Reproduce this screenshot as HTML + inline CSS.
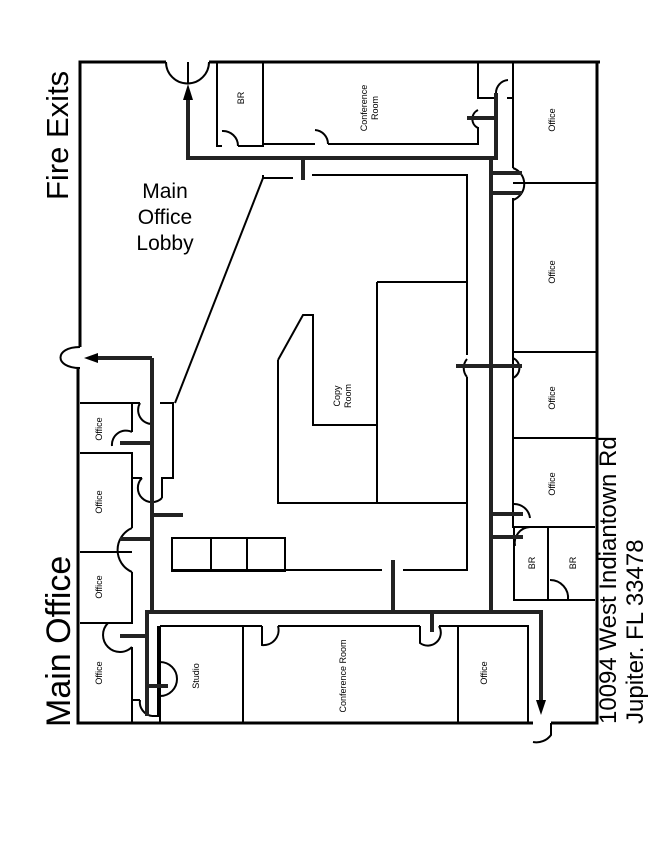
<!DOCTYPE html>
<html><head><meta charset="utf-8"><style>
body{margin:0;background:#fff}
svg{display:block}
text{font-family:"Liberation Sans",sans-serif;fill:#000}
</style></head><body>
<svg width="650" height="841" viewBox="0 0 650 841" xmlns="http://www.w3.org/2000/svg">
<g fill="none" stroke="#000" stroke-width="3">
<polyline points="166,62 80,62 80,347"/>
<polyline points="209,62 600,62 597,62 597,723 551,723"/>
<polyline points="533,723 78,723 78,368"/>
</g>
<g fill="none" stroke="#000" stroke-width="2">
<path d="M166,62 A21,21 0 0 0 209,62"/>
<line x1="188" y1="62" x2="188" y2="84"/>
<path d="M80,347 C54,347 54,368 80,368"/>
<path d="M551,723 L551,735 A18,18 0 0 1 533,742"/>
<!-- top rooms -->
<polyline points="217,62 217,146 222,146"/>
<polyline points="238,146 263,146 263,62"/>
<path d="M222,131 A15,15 0 0 1 238,146"/>
<polyline points="263,144 315,144"/>
<path d="M315,130 A14,14 0 0 1 328,144"/>
<polyline points="328,144 478,144 478,127"/>
<polyline points="478,62 478,98 496,98"/>
<path d="M478,110 A10,10 0 0 0 478,128"/>
<path d="M496,93 A13,13 0 0 1 508,80"/>
<polyline points="513,62 513,98 507,98"/>
<!-- right offices -->
<polyline points="513,168 513,98"/>
<polyline points="513,198 513,527 514,527"/>
<path d="M513,168 A17,17 0 0 1 513,200"/>
<line x1="513" y1="183" x2="598" y2="183"/>
<line x1="513" y1="352" x2="598" y2="352"/>
<path d="M513,358 A11,11 0 0 1 513,378"/>
<line x1="513" y1="438" x2="598" y2="438"/>
<path d="M513,504 A16,16 0 0 1 530,518"/>
<polyline points="514,527 548,527 595,527"/>
<path d="M515,546 A16,16 0 0 1 530,527"/>
<polyline points="514,527 514,600 548,600 548,527"/>
<polyline points="548,600 568,600"/>
<path d="M550,580 A18,18 0 0 1 568,600"/>
<polyline points="568,600 595,600"/>
<!-- inner block -->
<polyline points="263,175 263,178 293,178"/>
<polyline points="312,175 467,175 467,355"/>
<path d="M467,359 A14,14 0 0 0 467,377"/>
<polyline points="467,377 467,570 403,570"/>
<polyline points="382,570 172,570"/>
<polyline points="278,360 303,315 313,315 313,425 377,425"/>
<polyline points="377,282 467,282"/>
<polyline points="377,282 377,502"/>
<polyline points="278,360 278,503 467,503"/>
<rect x="172" y="538" width="113" height="33"/>
<line x1="211" y1="538" x2="211" y2="571"/>
<line x1="247" y1="538" x2="247" y2="571"/>
<line x1="263" y1="178" x2="175" y2="403"/>
<polyline points="160,403 173,403 173,478 162,478 162,498"/>
<path d="M140,403 A14,14 0 0 0 152,424"/>
<path d="M142,478 A14,14 0 0 0 162,498"/>
<!-- left offices -->
<polyline points="80,403 140,403"/>
<line x1="132" y1="403" x2="132" y2="432"/>
<path d="M132,432 A14,14 0 0 0 112,446"/>
<polyline points="80,453 132,453 132,478 142,478"/>
<line x1="132" y1="453" x2="132" y2="528"/>
<path d="M132,528 A24,24 0 0 0 132,572"/>
<line x1="80" y1="552" x2="132" y2="552"/>
<polyline points="132,572 132,623 80,623"/>
<path d="M108,623 A14,14 0 0 0 132,647"/>
<line x1="132" y1="647" x2="132" y2="723"/>
<polyline points="132,700 140,700"/>
<path d="M140,700 A14,14 0 0 0 152,716"/>
<polyline points="152,716 158,716 158,626"/>
<!-- bottom rooms -->
<polyline points="160,626 262,626"/>
<path d="M262,626 L262,645 A15,15 0 0 0 278,626"/>
<polyline points="278,626 420,626"/>
<path d="M420,626 L420,643 A13,13 0 0 0 439,626"/>
<polyline points="439,626 528,626 528,723"/>
<path d="M160,662 A17,17 0 0 1 160,696"/>
<line x1="160" y1="626" x2="160" y2="723"/>
<line x1="243" y1="626" x2="243" y2="723"/>
<line x1="458" y1="626" x2="458" y2="723"/>
</g>
<g fill="none" stroke="#222" stroke-width="4">
<polyline points="188,100 188,158 496,158 496,93"/>
<line x1="467" y1="118" x2="496" y2="118"/>
<polyline points="491,158 491,612"/>
<polyline points="152,358 152,612 147,612 147,716"/>
<polyline points="147,612 543,612 541,612 541,702"/>
<line x1="152" y1="358" x2="96" y2="358"/>
<line x1="303" y1="160" x2="303" y2="180"/>
<line x1="393" y1="560" x2="393" y2="612"/>
<line x1="152" y1="515" x2="183" y2="515"/>
<line x1="120" y1="443" x2="150" y2="443"/>
<line x1="120" y1="539" x2="150" y2="539"/>
<line x1="120" y1="636" x2="145" y2="636"/>
<line x1="147" y1="686" x2="168" y2="686"/>
<line x1="490" y1="173" x2="522" y2="173"/>
<line x1="490" y1="193" x2="522" y2="193"/>
<line x1="456" y1="366" x2="522" y2="366"/>
<line x1="493" y1="514" x2="523" y2="514"/>
<line x1="493" y1="537" x2="523" y2="537"/>
<line x1="432" y1="614" x2="432" y2="632"/>
</g>
<polygon points="188,84 183,100 193,100" fill="#000"/>
<polygon points="84,358 98,353 98,363" fill="#000"/>
<polygon points="541,715 536,700 546,700" fill="#000"/>
<text transform="translate(68,200) rotate(-90)" font-size="31">Fire Exits</text>
<text transform="translate(70,727) rotate(-90)" font-size="34">Main Office</text>
<text transform="translate(616,724) rotate(-90)" font-size="24">10094 West Indiantown Rd</text>
<text transform="translate(643,724) rotate(-90)" font-size="24">Jupiter. FL 33478</text>
<text x="165" y="198" font-size="21" text-anchor="middle">Main</text>
<text x="165" y="224" font-size="21" text-anchor="middle">Office</text>
<text x="165" y="250" font-size="21" text-anchor="middle">Lobby</text>
<g font-size="9" text-anchor="middle">
<text transform="translate(244,98) rotate(-90)">BR</text>
<text transform="translate(367,108) rotate(-90)">Conference</text>
<text transform="translate(378,108) rotate(-90)">Room</text>
<text transform="translate(555,120) rotate(-90)">Office</text>
<text transform="translate(555,272) rotate(-90)">Office</text>
<text transform="translate(555,398) rotate(-90)">Office</text>
<text transform="translate(555,484) rotate(-90)">Office</text>
<text transform="translate(535,563) rotate(-90)">BR</text>
<text transform="translate(576,563) rotate(-90)">BR</text>
<text transform="translate(340,396) rotate(-90)">Copy</text>
<text transform="translate(351,396) rotate(-90)">Room</text>
<text transform="translate(102,429) rotate(-90)">Office</text>
<text transform="translate(102,502) rotate(-90)">Office</text>
<text transform="translate(102,587) rotate(-90)">Office</text>
<text transform="translate(102,673) rotate(-90)">Office</text>
<text transform="translate(199,676) rotate(-90)">Studio</text>
<text transform="translate(346,676) rotate(-90)">Conference Room</text>
<text transform="translate(487,673) rotate(-90)">Office</text>
</g>
</svg>
</body></html>
